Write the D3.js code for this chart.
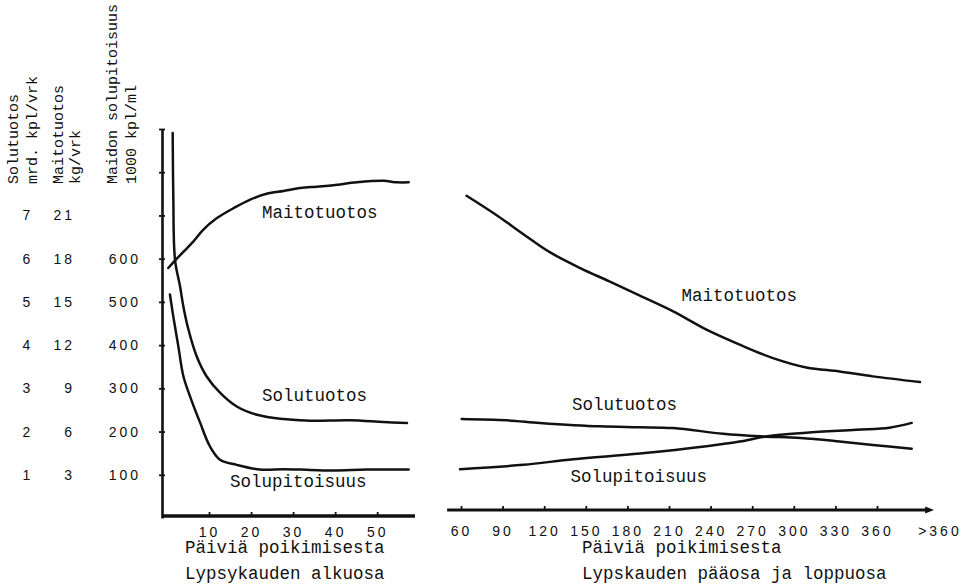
<!DOCTYPE html>
<html><head><meta charset="utf-8">
<script src="https://cdn.jsdelivr.net/npm/d3@7"></script>
<style>
body{margin:0;background:#fff}
svg{display:block}
.mono{font-family:"Liberation Mono","DejaVu Sans Mono",monospace;fill:#111}
.num text{font-family:"Liberation Sans",Arial,sans-serif;font-size:14px;letter-spacing:3px;fill:#111}
</style></head><body>
<svg id="c" width="973" height="588"></svg>
<script>
// ---------- DATA ----------
// Early lactation (days 0-59)
const earlyMilkDays  = [0.3,2,4,6.3,8.6,11.8,15.8,19.8,23.7,27.7,31.7,35.6,39.6,45.2,51.5,54.7,57.5];
const earlyMilkKg    = [17.35,17.9,18.5,19.2,20.0,20.8,21.5,22.1,22.5,22.7,22.9,23.0,23.1,23.3,23.4,23.3,23.3];
const earlyCellProdDays = [1.35,1.5,1.9,3.1,3.9,5.1,7.1,9.4,12.6,16.6,21.4,27.7,34,43.6,51.5,57.1];
const earlyCellProd     = [8.91,7.44,5.98,5.36,4.89,4.36,3.73,3.28,2.90,2.58,2.39,2.29,2.25,2.26,2.22,2.20];
const earlyCellCountDays = [0.7,1.5,2.7,3.9,5.5,7.9,10.2,12.6,16.6,22.1,27.7,31.7,39.6,47.5,57.5];
const earlyCellCount     = [517,466,397,328,281,220,166,135,123,112,113,112,110,112,112];
// Main and late lactation (days 60 - >360)
const lateMilkDays  = [64,86,105,124,146,167,189,213,237,261,285,309,333,357,391];
const lateMilkKg    = [22.37,21.0,19.7,18.45,17.35,16.42,15.43,14.34,13.07,12.03,11.10,10.45,10.17,9.83,9.44];
const lateCellProdDays = [60.5,93,117,160,189,213,249,276,305,333,357,385];
const lateCellProd     = [2.29,2.26,2.20,2.12,2.10,2.08,1.95,1.89,1.85,1.77,1.69,1.60];
const lateCellCountDays = [59.3,105,141,189,237,261,281,309,345,369,385];
const lateCellCount     = [113,123,136,149,166,177,189,197,204,209,220];
// Tick labels
const cellProdTicks  = [1,2,3,4,5,6,7];
const milkTicks      = [3,6,9,12,15,18,21];
const cellCountTicks = [100,200,300,400,500,600];
const axisTickMarks  = [100,200,300,400,500,600,700,800,900];
const earlyDayTicks  = [10,20,30,40,50];
const lateDayTicks   = [60,90,120,150,180,210,240,270,300,330,360];
const lateOpenTick   = 405; const lateOpenLabel = ">360";
// Texts
const titles = [["Solutuotos","mrd. kpl/vrk"],["Maitotuotos","kg/vrk"],["Maidon solupitoisuus","1000 kpl/ml"]];

// ---------- SCALES ----------
const svg = d3.select("#c");
const Y0 = 518, YTOP = 129;
const yCells = d3.scaleLinear().domain([0,900]).range([Y0,YTOP]);
const yProd  = d3.scaleLinear().domain([0,9]).range([Y0,YTOP]);
const yMilk  = d3.scaleLinear().domain([0,27]).range([Y0,YTOP]);
const xEarly = d3.scaleLinear().domain([0,59]).range([167,415]);
const xLate  = d3.scaleLinear().domain([60,360]).range([461,877]);
const ink = "#111";

// ---------- AXIS TITLES (rotated) ----------
const titleX = [[18,37],[63,80],[117,136]];
titles.forEach((pair,i)=>{
  pair.forEach((t,j)=>{
    svg.append("text").attr("class","mono")
      .attr("transform",`translate(${titleX[i][j]},184) rotate(-90)`)
      .style("font-size","15px").text(t);
  });
});

// ---------- LEFT TICK LABEL COLUMNS ----------
function labelCol(scale, ticks, x, anchor){
  const g = svg.append("g").attr("class","num").attr("transform",`translate(${x},0)`)
    .call(d3.axisLeft(scale).tickValues(ticks).tickSize(0).tickPadding(0));
  g.select(".domain").remove();
  g.selectAll("text").attr("text-anchor",anchor).attr("font-family",null).attr("font-size",null);
}
labelCol(yProd, cellProdTicks, 28, "middle");
labelCol(yMilk, milkTicks, 75, "end");
labelCol(yCells, cellCountTicks, 141, "end");

// ---------- LEFT PANEL AXES ----------
const yAx = svg.append("g").attr("transform","translate(162,0)")
  .call(d3.axisRight(yCells).tickValues(axisTickMarks).tickSizeInner(3).tickSizeOuter(0).tickFormat(""));
yAx.select(".domain").attr("stroke",ink).attr("stroke-width",2.6);
yAx.selectAll(".tick line").attr("x1",-3).attr("x2",3).attr("stroke",ink).attr("stroke-width",1.8);

const xAxE = svg.append("g").attr("class","num").attr("transform","translate(0,516)")
  .call(d3.axisBottom(xEarly).tickValues(earlyDayTicks).tickSizeInner(-4).tickSizeOuter(0).tickPadding(11));
xAxE.select(".domain").remove();
xAxE.selectAll(".tick line").attr("stroke",ink).attr("stroke-width",1.8);
xAxE.selectAll("text").attr("font-family",null).attr("font-size",null);
svg.append("line").attr("x1",162).attr("x2",xEarly.range()[1]).attr("y1",516).attr("y2",516)
  .attr("stroke",ink).attr("stroke-width",3.4);

// ---------- RIGHT PANEL AXIS ----------
svg.append("defs").append("marker").attr("id","arr").attr("viewBox","0 -5 10 10")
  .attr("refX",2).attr("refY",0).attr("markerWidth",3).attr("markerHeight",3).attr("orient","auto")
  .attr("markerUnits","strokeWidth")
  .append("path").attr("d","M0,-4L10,0L0,4Z").attr("fill",ink);
const xAxL = svg.append("g").attr("class","num").attr("transform","translate(0,510)")
  .call(d3.axisBottom(xLate).tickValues(lateDayTicks.concat([lateOpenTick]))
    .tickFormat(d=> d===lateOpenTick ? lateOpenLabel : d)
    .tickSizeInner(-4).tickSizeOuter(0).tickPadding(16));
xAxL.select(".domain").remove();
xAxL.selectAll(".tick line").attr("stroke",ink).attr("stroke-width",1.8);
xAxL.selectAll(".tick").filter(d=>d===lateOpenTick).select("line").remove();
xAxL.selectAll("text").attr("font-family",null).attr("font-size",null);
svg.append("line").attr("x1",xLate(50)).attr("x2",xLate(396)).attr("y1",510).attr("y2",510)
  .attr("stroke",ink).attr("stroke-width",3).attr("marker-end","url(#arr)");

// ---------- CURVES ----------
function curve(xs, ys, xScale, yScale){
  const pts = xs.map((d,i)=>[d, ys[i]]);
  svg.append("path").datum(pts)
    .attr("d", d3.line().x(d=>xScale(d[0])).y(d=>yScale(d[1])).curve(d3.curveCatmullRom.alpha(0.5)))
    .attr("fill","none").attr("stroke",ink).attr("stroke-width",2.5)
    .attr("stroke-linejoin","round").attr("stroke-linecap","round");
}
curve(earlyMilkDays, earlyMilkKg, xEarly, yMilk);
curve(earlyCellProdDays, earlyCellProd, xEarly, yProd);
curve(earlyCellCountDays, earlyCellCount, xEarly, yCells);
curve(lateMilkDays, lateMilkKg, xLate, yMilk);
curve(lateCellProdDays, lateCellProd, xLate, yProd);
curve(lateCellCountDays, lateCellCount, xLate, yCells);

// ---------- LABELS ----------
const labels = [
  ["Maitotuotos", xEarly(22.6), yMilk(20.8)],
  ["Solutuotos", xEarly(22.6), yProd(2.71)],
  ["Solupitoisuus", xEarly(15), yCells(72)],
  ["Maitotuotos", xLate(219), yMilk(15.06)],
  ["Solutuotos", xLate(140), yProd(2.50)],
  ["Solupitoisuus", xLate(139), yCells(83)],
  ["Päiviä poikimisesta", 185, 553],
  ["Lypsykauden alkuosa", 185, 579],
  ["Päiviä poikimisesta", 582, 553],
  ["Lypskauden pääosa ja loppuosa", 582, 579]
];
labels.forEach(([t,x,y])=>{
  svg.append("text").attr("class","mono").attr("x",x).attr("y",y)
    .style("font-size","17.5px").text(t);
});
</script>
</body></html>
